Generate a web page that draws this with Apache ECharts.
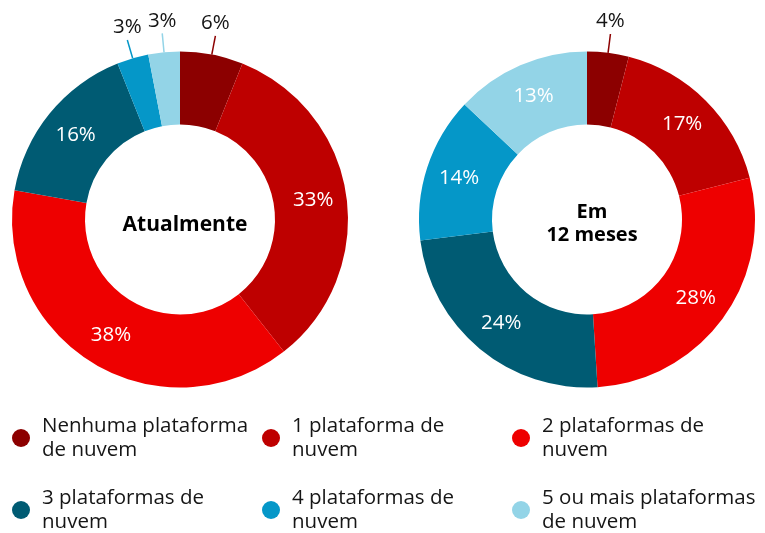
<!DOCTYPE html>
<html><head><meta charset="utf-8">
<script src="https://cdn.jsdelivr.net/npm/echarts@6/dist/echarts.min.js"></script>
<style>html,body{margin:0;padding:0;background:#fff}#c{width:765px;height:533px}</style>
</head><body><div id="c"></div>
<script>
const categories = ["Nenhuma plataforma de nuvem","1 plataforma de nuvem","2 plataformas de nuvem","3 plataformas de nuvem","4 plataformas de nuvem","5 ou mais plataformas de nuvem"];
const legendText = ["Nenhuma plataforma\nde nuvem","1 plataforma de\nnuvem","2 plataformas de\nnuvem","3 plataformas de\nnuvem","4 plataformas de\nnuvem","5 ou mais plataformas\nde nuvem"];
const currentValues = [6, 33, 38, 16, 3, 3];
const futureValues = [4, 17, 28, 24, 14, 13];
const currentOutside = [true, false, false, false, true, true];
const futureOutside = [true, false, false, false, false, false];
const colors = ["#8c0000","#be0000","#ee0000","#005b73","#0597c8","#93d4e7"];
const centerTitles = ["Atualmente","Em\n12 meses"];
const FONT = "'Open Sans', sans-serif";

function makeData(vals, outside){
  return vals.map((v,i)=>({
    name: categories[i], value: v,
    label: outside[i] ? {position:'outside', color:'#151515'} : {position:'inside', color:'#fff'},
    labelLine: {show: outside[i]}
  }));
}
function makeSeries(vals, outside, cx){
  return {
    type:'pie', center:[cx, 219.5], radius:[95,168], startAngle:90, clockwise:true,
    avoidLabelOverlap:false, silent:true,
    data: makeData(vals, outside),
    label:{show:true, formatter:'{c}%', fontSize:20.5, fontFamily:FONT},
    labelLine:{length:19, length2:0, smooth:false, lineStyle:{width:1.5}},
    labelLayout: function(p){
      const out = (p.seriesIndex===0?currentOutside:futureOutside)[p.dataIndex];
      if(!out || !p.labelLinePoints) return {};
      const pts = p.labelLinePoints;
      const s = pts[0], e = pts[1];
      return {x:e[0], y:e[1]-2, align:'center', verticalAlign:'bottom', labelLinePoints:[s,e,e]};
    },
    emphasis:{disabled:true}
  };
}
const chart = echarts.init(document.getElementById('c'));
const legendLeft = [12, 262, 512, 12, 262, 512];
const legendTop = [414, 414, 414, 486, 486, 486];
chart.setOption({
  color: colors,
  animation:false,
  title: [
    {text:centerTitles[0], left:180, top:220, textAlign:'center', textVerticalAlign:'middle', textStyle:{fontSize:21, fontWeight:'bold', color:'#000', fontFamily:FONT}},
    {text:centerTitles[1], left:587, top:219, textAlign:'center', textVerticalAlign:'middle', textStyle:{fontSize:20, fontWeight:'bold', color:'#000', fontFamily:FONT, lineHeight:23}}
  ],
  legend: categories.map((c,k)=>({
    orient:'vertical', left:legendLeft[k], top:legendTop[k], padding:0, icon:'circle', itemWidth:18, itemHeight:18,
    selectedMode:false,
    data: [c],
    formatter: name => legendText[categories.indexOf(name)],
    textStyle:{fontSize:20.5, lineHeight:24, color:'#151515', fontFamily:FONT, padding:[0,0,0,7]}
  })),
  series:[ makeSeries(currentValues, currentOutside, 180), makeSeries(futureValues, futureOutside, 587) ]
});
</script></body></html>
